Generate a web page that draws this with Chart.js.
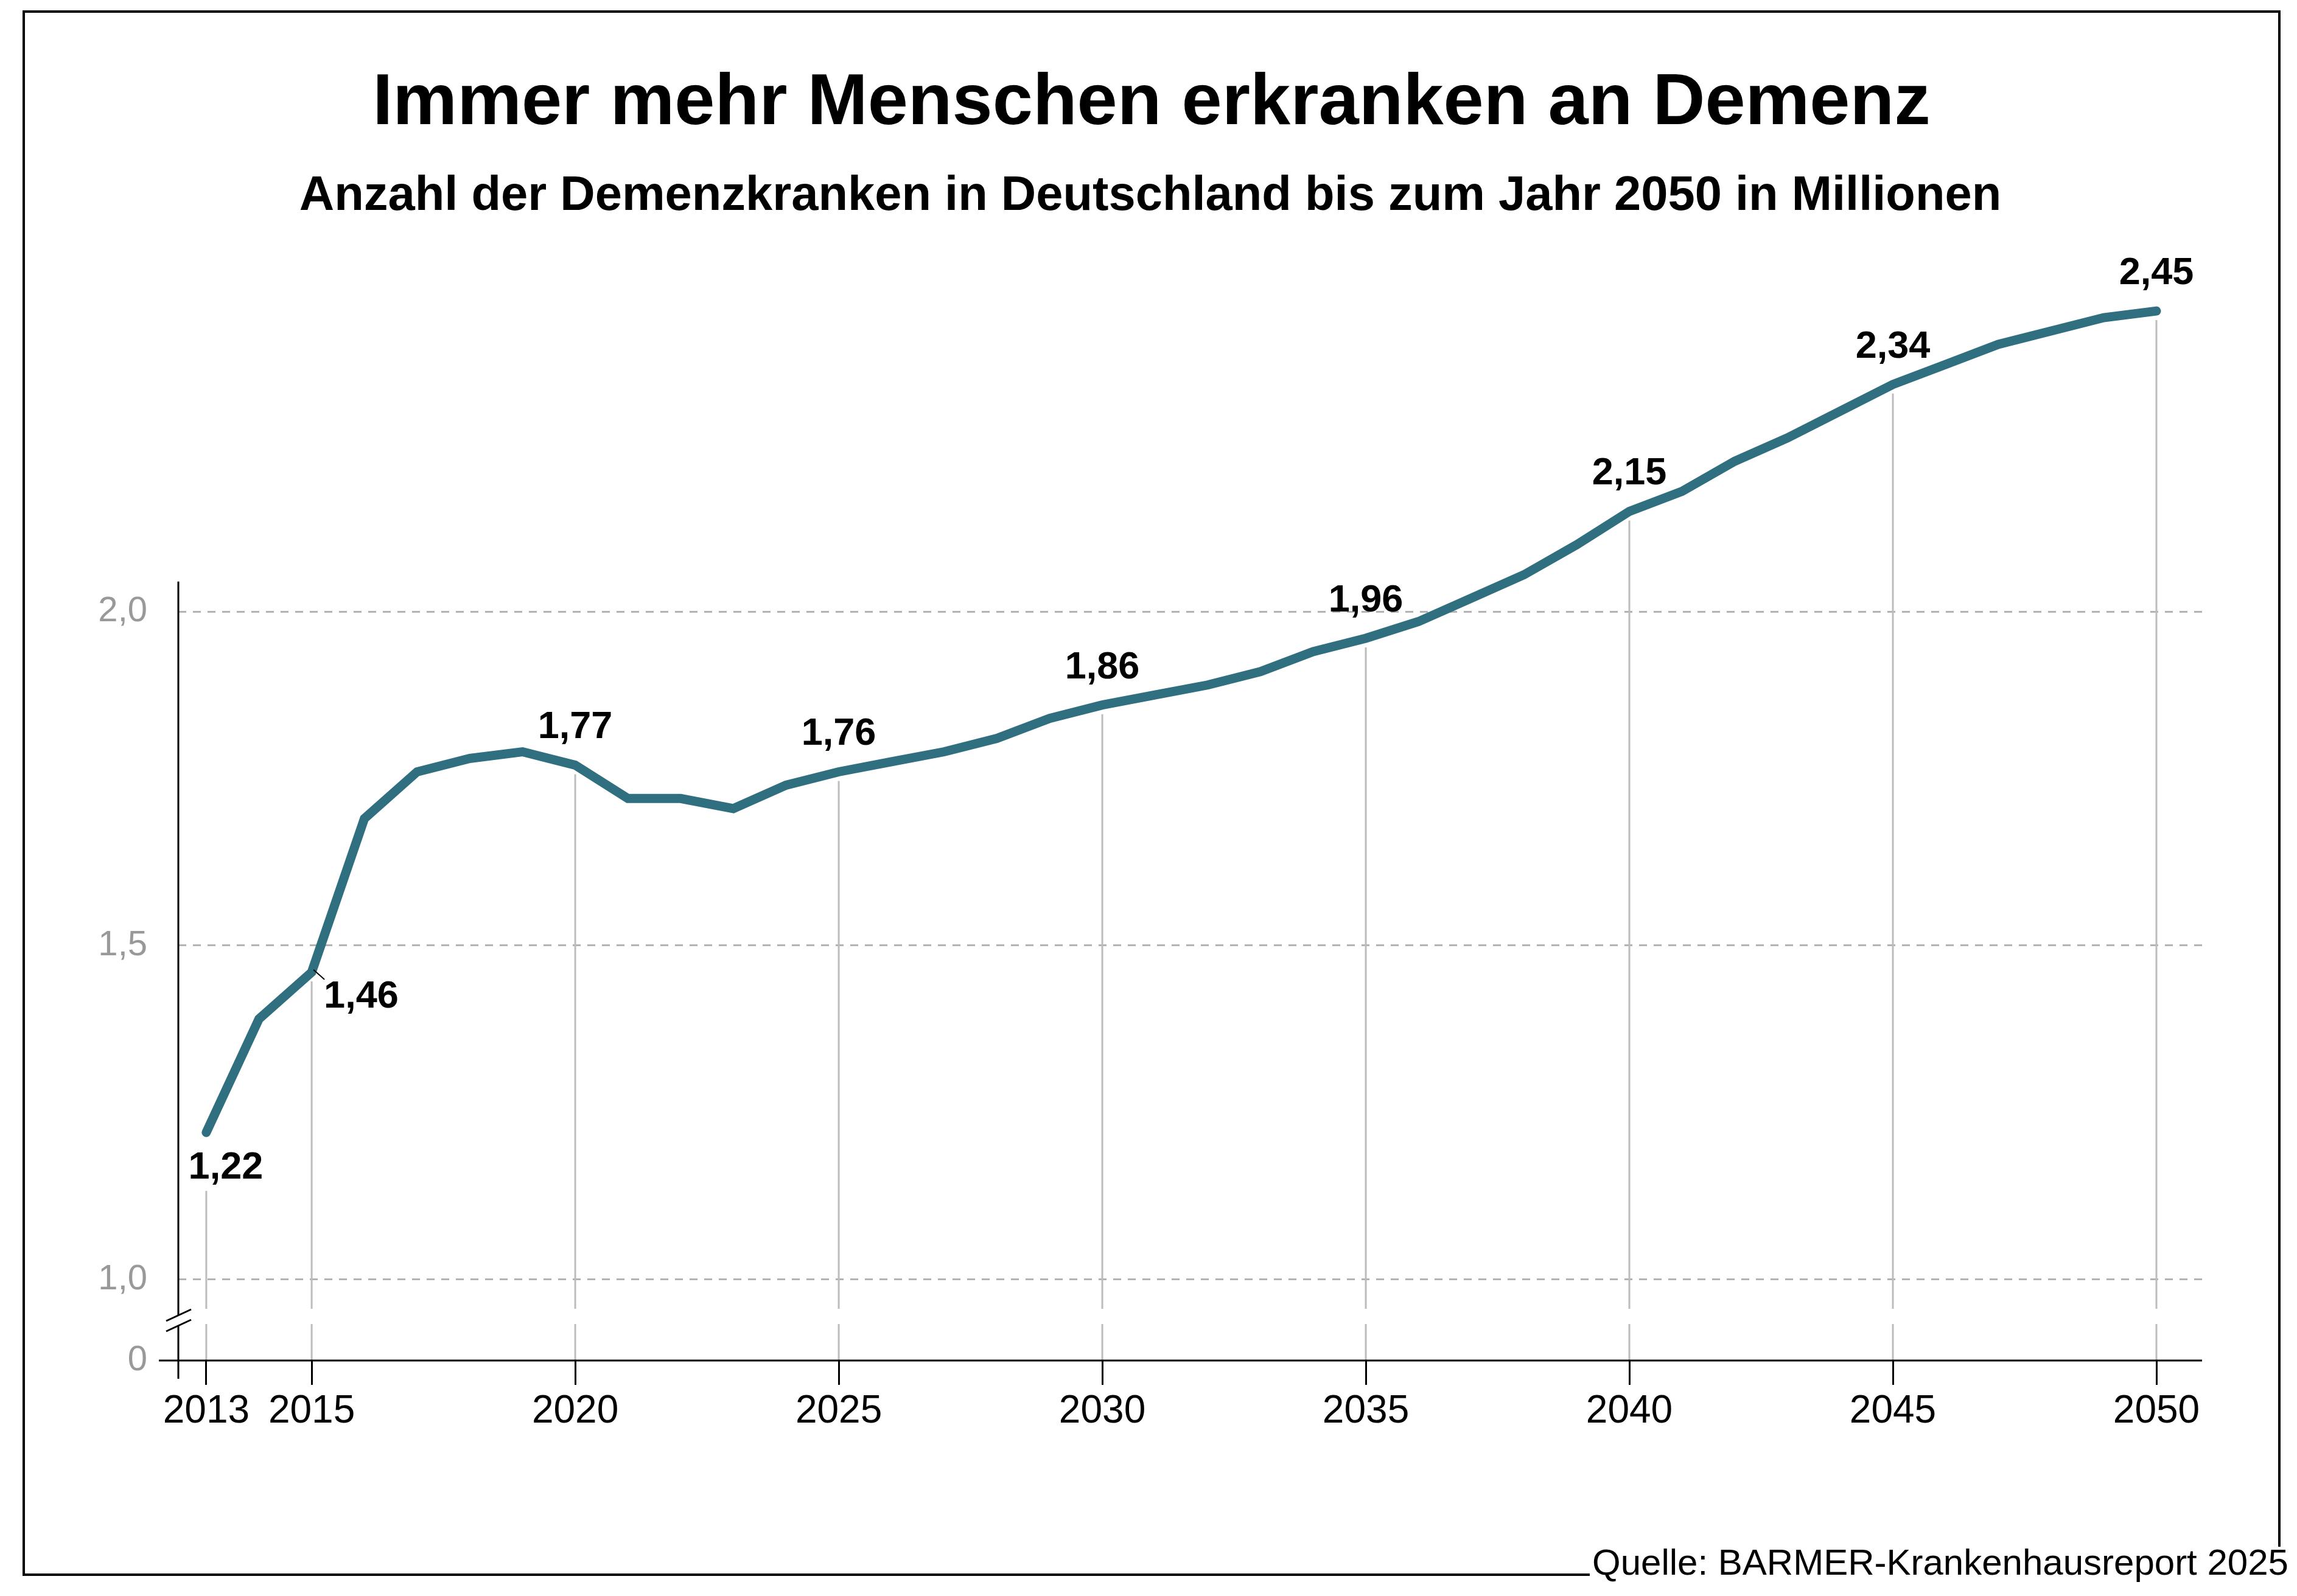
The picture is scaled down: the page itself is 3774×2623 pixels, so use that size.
<!DOCTYPE html>
<html lang="de">
<head>
<meta charset="utf-8">
<title>Immer mehr Menschen erkranken an Demenz</title>
<script src="https://cdn.jsdelivr.net/npm/chart.js@4/dist/chart.umd.min.js"></script>
<style>
  html, body { margin: 0; padding: 0; background: #fff; }
  canvas { display: block; }
</style>
</head>
<body>
<canvas id="chart" width="3774" height="2623" style="width:3774px;height:2623px"></canvas>
<script>
const years = [2013, 2014, 2015, 2016, 2017, 2018, 2019, 2020, 2021, 2022,
  2023, 2024, 2025, 2026, 2027, 2028, 2029, 2030, 2031, 2032,
  2033, 2034, 2035, 2036, 2037, 2038, 2039, 2040, 2041, 2042,
  2043, 2044, 2045, 2046, 2047, 2048, 2049, 2050];
// Demenzkranke in Millionen
const patients = [1.22, 1.39, 1.46, 1.69, 1.76, 1.78, 1.79, 1.77, 1.72, 1.72,
  1.705, 1.74, 1.76, 1.775, 1.79, 1.81, 1.84, 1.86, 1.875, 1.89,
  1.91, 1.94, 1.96, 1.985, 2.02, 2.055, 2.10, 2.15, 2.18, 2.225,
  2.26, 2.30, 2.34, 2.37, 2.40, 2.42, 2.44, 2.45];
const tickYears = [2013, 2015, 2020, 2025, 2030, 2035, 2040, 2045, 2050];
const yTicks = [1.0, 1.5, 2.0];

const title = 'Immer mehr Menschen erkranken an Demenz';
const subtitle = 'Anzahl der Demenzkranken in Deutschland bis zum Jahr 2050 in Millionen';
const source = 'Quelle: BARMER-Krankenhausreport 2025';

const FONT = "'Liberation Sans', Arial, Helvetica, sans-serif";
const LINE = '#2f6f80';
// the axis is broken: its bottom edge stands for 0
const Y_MIN = 0.8785, Y_MAX = 2.533;

const comma = (v, d) => v.toFixed(d).replace('.', ',');

function seg(ctx, x1, y1, x2, y2) {
  ctx.beginPath();
  ctx.moveTo(x1, y1);
  ctx.lineTo(x2, y2);
  ctx.stroke();
}

const decor = {
  id: 'decor',
  beforeDatasetsDraw(chart) {
    const { ctx, scales: { x, y } } = chart;
    const pts = chart.getDatasetMeta(0).data;
    const b = y.bottom;
    ctx.save();
    // thin guides from the marked points down to the axis
    ctx.strokeStyle = '#bdbdbd';
    ctx.lineWidth = 3;
    tickYears.forEach(yr => {
      const p = pts[years.indexOf(yr)];
      const top = yr === 2013 ? p.y + 96 : p.y + 15;
      seg(ctx, p.x, top, p.x, b - 85);
      seg(ctx, p.x, b - 60, p.x, b);
    });
    // axes with break
    ctx.strokeStyle = '#000';
    ctx.lineWidth = 3;
    const ax = x.left;
    seg(ctx, ax - 32, b, x.right, b);
    seg(ctx, ax, y.getPixelForValue(2.045), ax, b - 74);
    seg(ctx, ax, b - 57, ax, b + 30);
    seg(ctx, ax - 20, b - 65, ax + 21, b - 84);
    seg(ctx, ax - 20, b - 48, ax + 21, b - 67);
    ctx.restore();
  },
  afterDatasetsDraw(chart) {
    const { ctx } = chart;
    const pts = chart.getDatasetMeta(0).data;
    ctx.save();
    ctx.fillStyle = '#000';
    ctx.font = `bold 63px ${FONT}`;
    ctx.textBaseline = 'alphabetic';
    tickYears.forEach(yr => {
      const i = years.indexOf(yr);
      const p = pts[i];
      const txt = comma(patients[i], 2);
      if (yr === 2013) {
        ctx.textAlign = 'center';
        ctx.fillText(txt, p.x + 32, p.y + 76);
      } else if (yr === 2015) {
        ctx.textAlign = 'left';
        ctx.fillText(txt, p.x + 20, p.y + 58);
        ctx.strokeStyle = '#000';
        ctx.lineWidth = 2;
        seg(ctx, p.x + 3, p.y - 4, p.x + 21, p.y + 12);
      } else {
        ctx.textAlign = 'center';
        ctx.fillText(txt, p.x, p.y - 44);
      }
    });
    ctx.restore();
  },
  afterDraw(chart) {
    const { ctx } = chart;
    ctx.save();
    ctx.fillStyle = '#000';
    ctx.textAlign = 'center';
    ctx.textBaseline = 'alphabetic';
    ctx.font = `bold 119px ${FONT}`;
    ctx.fillText(title, 1892, 204);
    ctx.font = `bold 79.5px ${FONT}`;
    ctx.fillText(subtitle, 1890, 345);
    ctx.textAlign = 'left';
    ctx.font = `60px ${FONT}`;
    ctx.fillText(source, 2616, 2588);
    // frame, open at the source line
    ctx.strokeStyle = '#000';
    ctx.lineWidth = 4;
    ctx.beginPath();
    ctx.moveTo(2612, 2588);
    ctx.lineTo(39, 2588);
    ctx.lineTo(39, 19);
    ctx.lineTo(3745, 19);
    ctx.lineTo(3745, 2542);
    ctx.stroke();
    ctx.restore();
  }
};

new Chart(document.getElementById('chart'), {
  type: 'line',
  data: {
    datasets: [{
      data: years.map((yr, i) => ({ x: yr, y: patients[i] })),
      borderColor: LINE,
      borderWidth: 15,
      borderCapStyle: 'round',
      borderJoinStyle: 'miter',
      pointRadius: 0,
      tension: 0,
      fill: false
    }]
  },
  options: {
    responsive: false,
    devicePixelRatio: 1,
    animation: false,
    layout: { padding: { top: 420, right: 156, bottom: 237, left: 0 } },
    plugins: { legend: { display: false }, tooltip: { enabled: false } },
    scales: {
      x: {
        type: 'linear',
        min: 2012.47,
        max: 2050.866,
        afterBuildTicks: s => { s.ticks = tickYears.map(v => ({ value: v })); },
        afterFit: s => { s.height = 150; },
        border: { display: false },
        grid: {
          drawOnChartArea: false,
          drawTicks: true,
          tickLength: 40,
          tickColor: '#000',
          tickWidth: 3
        },
        ticks: {
          autoSkip: false,
          maxRotation: 0,
          minRotation: 0,
          padding: 6,
          color: '#000',
          font: { family: FONT, size: 64 },
          callback: v => String(v)
        }
      },
      y: {
        type: 'linear',
        min: Y_MIN,
        max: Y_MAX,
        afterBuildTicks: s => { s.ticks = [Y_MIN, ...yTicks].map(v => ({ value: v })); },
        afterFit: s => { s.width = 293; },
        border: { display: false, dash: [13, 11] },
        grid: {
          drawTicks: false,
          lineWidth: 3,
          color: c => (c.index === 0 ? 'rgba(0,0,0,0)' : '#b3b3b3')
        },
        ticks: {
          padding: 51,
          color: '#999999',
          font: { family: FONT, size: 58 },
          callback: (v, i) => (i === 0 ? '0' : comma(v, 1))
        }
      }
    }
  },
  plugins: [decor]
});
</script>
</body>
</html>
